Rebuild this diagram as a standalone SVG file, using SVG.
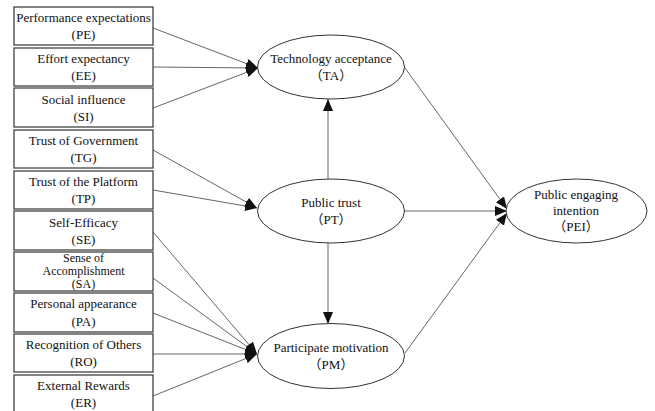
<svg xmlns="http://www.w3.org/2000/svg" width="655" height="411" viewBox="0 0 655 411">
<style>
.box{fill:#fff;stroke:#333;stroke-width:1.2}
.ell{fill:#fff;stroke:#333;stroke-width:1}
.t{font-family:"Liberation Serif","Noto Sans CJK SC",serif;font-size:13px;fill:#111;text-anchor:middle}
.s{font-size:12px}
.c line{stroke:#666;stroke-width:1;marker-end:url(#ah)}
</style>
<defs>
<marker id="ah" markerUnits="userSpaceOnUse" markerWidth="14" markerHeight="10" refX="12" refY="5" orient="auto">
<path d="M0,0 L12,5 L0,10 Z" fill="#111"/>
</marker>
</defs>
<rect width="655" height="411" fill="#fff"/>
<g class="c" id="connectors">
<line x1="153" y1="28" x2="258" y2="68"/>
<line x1="153" y1="67" x2="258" y2="68"/>
<line x1="153" y1="108" x2="258" y2="68"/>
<line x1="153" y1="150" x2="257" y2="208"/>
<line x1="153" y1="190" x2="257" y2="208"/>
<line x1="153" y1="232" x2="257" y2="354"/>
<line x1="153" y1="278" x2="257" y2="354"/>
<line x1="153" y1="313" x2="257" y2="354"/>
<line x1="153" y1="354" x2="257" y2="354"/>
<line x1="153" y1="396" x2="257" y2="354"/>
<line x1="328" y1="179" x2="328" y2="99"/>
<line x1="328" y1="243" x2="328" y2="324"/>
<line x1="405" y1="68" x2="507" y2="209"/>
<line x1="404" y1="211" x2="507" y2="211"/>
<line x1="405" y1="353" x2="507" y2="213"/>
</g>
<g id="PE"><rect class="box" x="14" y="7" width="139" height="38"/><text class="t" x="83.5" y="22">Performance expectations</text><text class="t" x="83.5" y="39">(PE)</text></g>
<g id="EE"><rect class="box" x="14" y="48" width="139" height="38"/><text class="t" x="83.5" y="63">Effort expectancy</text><text class="t" x="83.5" y="80">(EE)</text></g>
<g id="SI"><rect class="box" x="14" y="88" width="139" height="39"/><text class="t" x="83.5" y="104">Social influence</text><text class="t" x="83.5" y="121">(SI)</text></g>
<g id="TG"><rect class="box" x="14" y="130" width="139" height="38"/><text class="t" x="83.5" y="145">Trust of Government</text><text class="t" x="83.5" y="162">(TG)</text></g>
<g id="TP"><rect class="box" x="14" y="171" width="139" height="38"/><text class="t" x="83.5" y="186">Trust of the Platform</text><text class="t" x="83.5" y="203">(TP)</text></g>
<g id="SE"><rect class="box" x="14" y="211" width="139" height="39"/><text class="t" x="83.5" y="227">Self-Efficacy</text><text class="t" x="83.5" y="244">(SE)</text></g>
<g id="SA"><rect class="box" x="14" y="252" width="139" height="39"/><text class="t s" x="83.5" y="262">Sense of</text><text class="t s" x="83.5" y="275">Accomplishment</text><text class="t s" x="83.5" y="288">(SA)</text></g>
<g id="PA"><rect class="box" x="14" y="293" width="139" height="39"/><text class="t" x="83.5" y="308">Personal appearance</text><text class="t" x="83.5" y="326">(PA)</text></g>
<g id="RO"><rect class="box" x="14" y="334" width="139" height="38"/><text class="t" x="83.5" y="349">Recognition of Others</text><text class="t" x="83.5" y="366">(RO)</text></g>
<g id="ER"><rect class="box" x="14" y="375" width="139" height="40"/><text class="t" x="83.5" y="390">External Rewards</text><text class="t" x="83.5" y="407">(ER)</text></g>
<g id="TA"><ellipse class="ell" cx="331" cy="67" rx="73.5" ry="32"/><text class="t" x="331" y="63">Technology acceptance</text><text class="t" x="331" y="80">（TA）</text></g>
<g id="PT"><ellipse class="ell" cx="331" cy="211" rx="73.5" ry="32"/><text class="t" x="331" y="207">Public trust</text><text class="t" x="331" y="224">（PT）</text></g>
<g id="PM"><ellipse class="ell" cx="331" cy="356" rx="73.5" ry="32.5"/><text class="t" x="331" y="352">Participate motivation</text><text class="t" x="331" y="369">（PM）</text></g>
<g id="PEI"><ellipse class="ell" cx="576.5" cy="211" rx="70.5" ry="32"/><text class="t" x="576" y="199">Public engaging</text><text class="t" x="576" y="215">intention</text><text class="t" x="576" y="231">（PEI）</text></g>
</svg>
